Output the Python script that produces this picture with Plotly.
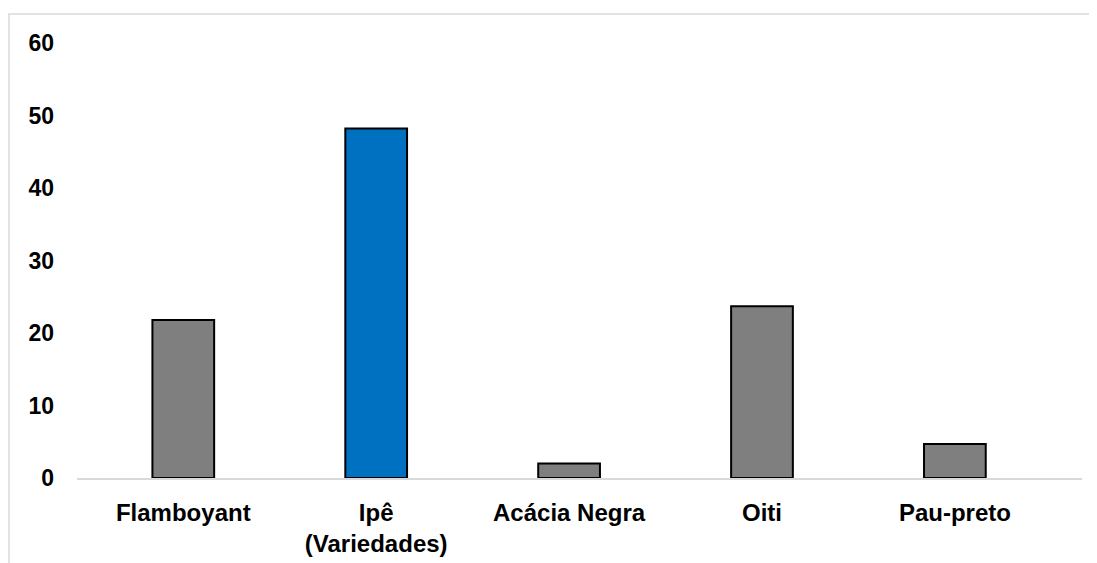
import plotly.graph_objects as go

categories = ["Flamboyant", "Ipê<br>(Variedades)", "Acácia Negra", "Oiti", "Pau-preto"]
values = [21.8, 48.2, 2.0, 23.7, 4.7]
bar_colors = ["#7f7f7f", "#0070c0", "#7f7f7f", "#7f7f7f", "#7f7f7f"]
y_ticks = [0, 10, 20, 30, 40, 50, 60]

FONT = "Arial, Liberation Sans, sans-serif"

fig = go.Figure()
fig.add_trace(go.Bar(
    x=categories,
    y=values,
    width=0.32,
    marker=dict(color=bar_colors, line=dict(color="#000000", width=2)),
    showlegend=False,
    hoverinfo="x+y",
))

fig.update_layout(
    width=1089,
    height=555,
    margin=dict(l=69, r=15, t=35, b=85),
    paper_bgcolor="#ffffff",
    plot_bgcolor="#ffffff",
    font=dict(family=FONT, color="#000000"),
    xaxis=dict(
        type="category",
        range=[-0.551, 4.659],
        automargin=False,
        showgrid=False,
        showline=True,
        linecolor="#d9d9d9",
        linewidth=2,
        ticks="",
        tickfont=dict(family=FONT, size=24, color="#000000", weight="bold"),
        ticklabelstandoff=12,
        zeroline=False,
        fixedrange=True,
    ),
    yaxis=dict(
        range=[0, 60],
        tickvals=y_ticks,
        automargin=False,
        showgrid=False,
        showline=False,
        zeroline=False,
        ticks="",
        tickfont=dict(family=FONT, size=23, color="#000000", weight="bold"),
        ticklabelstandoff=22,
        fixedrange=True,
    ),
    shapes=[
        dict(
            type="rect", xref="paper", yref="paper",
            x0=-0.0677, x1=1.2, y0=-0.5, y1=1.0667,
            line=dict(color="#d9d9d9", width=1.5),
            fillcolor="rgba(0,0,0,0)",
            layer="above",
        )
    ],
)

fig.write_html("out.html")
